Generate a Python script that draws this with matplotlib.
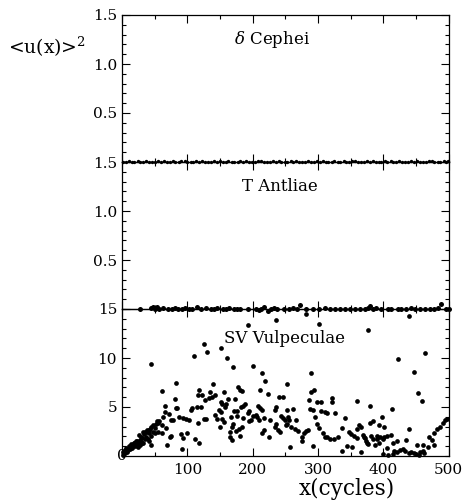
import matplotlib
matplotlib.use("Agg")
import matplotlib.pyplot as plt
from matplotlib.ticker import MultipleLocator

plt.rcParams['font.family'] = ['DejaVu Serif']
plt.rcParams['mathtext.fontset'] = 'dejavuserif'

# ---------------- data ----------------
titles = [r"$\delta$ Cephei", "T Antliae", "SV Vulpeculae"]
x_tick_labels = ["", "100", "200", "300", "400", "500"]
x_ticks = [0, 100, 200, 300, 400, 500]
small_y_ticks = [0.5, 1.0, 1.5]
small_y_labels = ["0.5", "1.0", "1.5"]
big_y_ticks = [5, 10, 15]
big_y_labels = ["5", "10", "15"]

ceph_x = [2, 6, 11, 15, 19, 24, 28, 33, 37, 42, 46, 51, 55, 60, 64, 69, 73, 78,
          82, 87, 91, 96, 100, 105, 109, 114, 118, 123, 127, 132, 136, 141, 145,
          150, 154, 159, 163, 168, 172, 177, 181, 186, 190, 195, 199, 204, 208,
          213, 217, 222, 226, 231, 235, 240, 244, 249, 253, 258, 262, 267, 271,
          276, 280, 285, 289, 294, 298, 303, 307, 312, 316, 321, 325, 330, 334,
          339, 343, 348, 352, 357, 361, 366, 370, 375, 379, 384, 388, 393, 397,
          402, 406, 411, 415, 420, 424, 429, 433, 438, 442, 447, 451, 456, 460,
          465, 469, 474, 478, 483, 487, 492, 496, 499]
ceph_y = [0.004, 0.002, 0.006, 0.003, 0.005, 0.008, 0.002, 0.004, 0.007, 0.003,
          0.005, 0.004, 0.009, 0.002, 0.006, 0.003, 0.005, 0.007, 0.004, 0.002,
          0.006, 0.010, 0.003, 0.005, 0.004, 0.006, 0.002, 0.008, 0.004, 0.003,
          0.005, 0.007, 0.002, 0.006, 0.004, 0.003, 0.009, 0.005, 0.002, 0.004,
          0.006, 0.003, 0.007, 0.005, 0.004, 0.002, 0.006, 0.008, 0.003, 0.005,
          0.004, 0.006, 0.002, 0.007, 0.004, 0.003, 0.005, 0.009, 0.002, 0.006,
          0.004, 0.003, 0.005, 0.007, 0.002, 0.004, 0.006, 0.003, 0.008, 0.005,
          0.004, 0.002, 0.006, 0.003, 0.005, 0.007, 0.004, 0.002, 0.006, 0.010,
          0.003, 0.005, 0.004, 0.006, 0.002, 0.008, 0.004, 0.003, 0.005, 0.007,
          0.002, 0.006, 0.004, 0.003, 0.009, 0.005, 0.002, 0.004, 0.006, 0.003,
          0.007, 0.005, 0.004, 0.002, 0.006, 0.008, 0.003, 0.005, 0.004, 0.006,
          0.002, 0.007]

tant_x = [28, 45, 48, 50, 52, 54, 57, 63, 70, 76, 81, 86, 92, 97, 102, 108, 115,
          121, 128, 136, 141, 146, 154, 159, 164, 171, 176, 181, 193, 205, 210,
          213, 218, 223, 228, 233, 238, 248, 256, 262, 268, 273, 282, 292, 302,
          310, 318, 326, 334, 341, 349, 356, 364, 372, 376, 379, 384, 389, 397,
          407, 412, 422, 427, 434, 442, 449, 456, 464, 471, 478, 484, 488, 496, 500]
tant_y = [0.0, 0.01, 0.02, 0.0, 0.01, 0.02, 0.0, 0.01, 0.0, 0.0, 0.01, 0.0,
          0.0, 0.01, 0.0, 0.0, 0.02, 0.0, 0.01, 0.0, 0.0, 0.01, 0.0, 0.0,
          0.01, 0.0, 0.0, 0.0, 0.0, 0.0, -0.01, 0.0, 0.02, -0.02, 0.0, 0.01,
          0.0, 0.0, 0.0, 0.01, 0.0, 0.04, 0.0, 0.0, 0.0, 0.01, 0.0, 0.0, 0.0,
          0.0, 0.0, 0.0, 0.0, 0.0, 0.01, 0.03, 0.0, 0.01, 0.0, 0.0, 0.0, 0.0,
          0.0, 0.0, 0.01, 0.0, 0.0, 0.0, 0.0, 0.0, 0.01, 0.05, 0.0, 0.0]

sv_x = [44.8, 126, 110, 130, 82.4, 61.5, 117.6, 116, 122, 127.7, 81, 65.7, 85,
        83, 105, 108, 115, 121, 65.7, 72, 63, 75, 78, 88, 93, 98, 102, 117, 125,
        54, 56, 48, 45, 61, 68, 42, 39, 55, 51, 34, 29.5, 26.5, 45, 62, 73, 75,
        91, 99, 112, 42, 44, 69, 94, 92, 118.6, 21, 18, 16, 12, 9, 6, 3, 1, 27,
        24, 29.5, 37, 40, 33, 2, 4, 5, 7, 8, 10, 11, 13, 14, 15, 17, 19, 20, 22,
        23, 25, 28, 30, 31, 32, 35, 36, 38, 41, 43, 47, 50, 52, 57,
        192.8, 235, 151, 161.5, 170, 200.5, 214.8, 218.9, 140, 178, 181, 184,
        212, 223, 252, 135.4, 142, 138, 134, 156, 162.5, 172.6, 241, 247, 151,
        153, 160, 158, 182, 185, 189, 208, 212, 214, 148.6, 151, 172, 176, 194.6,
        193, 235, 233.6, 252, 128.2, 142.6, 145.5, 153, 156, 167.5, 176.6, 185.8,
        200, 205, 207, 210, 198, 194.6, 217, 226, 243.8, 246.4, 250, 252.4, 236,
        234, 239, 242, 149.6, 170, 168, 183, 179, 175, 165, 166, 168.5, 181,
        213.8, 217, 224.4, 256.5,
        281.4, 301, 376.6, 288.6, 293.1, 290, 286.5, 299, 305, 322, 321, 360,
        379, 262, 287.5, 293, 254, 304, 310, 314, 326.7, 295, 340.9, 256, 267,
        251.4, 258.5, 264.6, 268.7, 280.9, 285, 277.9, 275, 276, 298.8, 301.3,
        307, 310, 314, 319, 325, 331, 336, 348, 351, 355, 359, 366, 363, 360,
        344, 352.5, 337, 292, 371, 373.5, 365.6, 378.8,
        439.2, 423, 463.6, 446.9, 453.5, 458.6, 413.7, 398.4, 384.2, 393.9, 401,
        439.2, 494, 491.8, 486.6, 482.6, 477.5, 469.8, 473.9, 369.5, 372, 380.6,
        389.8, 394.9, 401, 406, 384.7, 390.8, 399, 411, 374.5, 377, 387.2, 393.4,
        406, 415, 421, 434.4, 452, 460, 468.4, 477, 416.6, 420.7, 424.8, 429.9,
        433.5, 438.6, 442.2, 446.3, 450.4, 454, 456.5, 460.6, 462.6, 414.2,
        399.9, 406.5, 498]
sv_y = [9.35, 11.46, 10.2, 10.6, 7.4, 6.63, 6.7, 6.2, 6.2, 5.7, 5.78, 5.1, 4.9,
        4.9, 4.7, 4.9, 5.0, 5.0, 4.45, 4.25, 3.98, 3.7, 3.7, 3.95, 3.85, 3.75,
        3.67, 3.4, 3.8, 3.6, 3.4, 3.15, 2.95, 3.15, 2.9, 2.65, 2.44, 2.48, 2.38,
        2.2, 1.95, 2.17, 2.0, 2.34, 1.96, 2.05, 2.2, 2.35, 1.75, 1.55, 1.12,
        1.14, 1.8, 0.7, 1.35, 1.55, 1.35, 1.14, 0.94, 0.7, 0.5, 0.27, 0.1, 1.12,
        0.94, 1.45, 1.9, 1.7, 1.35, 0.4, 0.6, 0.3, 0.8, 0.45, 0.6, 1.0, 0.75,
        1.2, 0.85, 1.0, 1.3, 1.0, 1.2, 1.5, 1.3, 1.6, 1.3, 1.8, 2.4, 1.7, 2.5,
        2.7, 2.3, 2.8, 2.4, 2.9, 3.3, 3.6,
        13.4, 13.9, 11.05, 9.96, 9.1, 9.2, 8.5, 7.7, 7.3, 7.07, 6.7, 6.6, 6.7,
        6.35, 7.3, 6.53, 6.2, 6.0, 5.9, 6.5, 5.78, 5.78, 6.05, 6.0, 5.55, 5.33,
        5.27, 4.97, 4.95, 5.1, 5.3, 5.1, 4.9, 4.7, 4.7, 4.5, 4.55, 4.6, 4.55,
        4.35, 5.0, 4.7, 4.65, 3.8, 4.2, 3.8, 3.75, 3.5, 4.0, 4.08, 3.85, 4.05,
        4.2, 3.98, 3.7, 3.7, 3.6, 3.85, 3.7, 4.08, 3.85, 3.7, 3.3, 3.25, 2.95,
        2.7, 2.5, 2.95, 3.3, 3.0, 3.0, 2.75, 2.58, 2.4, 1.97, 1.63, 2.04, 2.31,
        2.65, 1.9, 0.87,
        14.45, 13.5, 12.86, 8.44, 6.76, 6.53, 5.72, 5.47, 5.5, 5.9, 5.5, 5.65,
        5.1, 4.83, 4.83, 4.7, 3.95, 4.55, 4.45, 4.35, 4.35, 3.95, 3.85, 3.7, 3.7,
        3.2, 3.0, 2.8, 2.6, 2.6, 2.65, 2.31, 1.97, 1.56, 3.26, 2.86, 2.31, 1.97,
        1.9, 1.7, 1.77, 1.97, 2.86, 2.48, 2.24, 2.04, 1.8, 2.92, 3.13, 2.72,
        1.0, 0.87, 0.46, 1.0, 1.97, 1.5, 0.44, 3.4,
        14.3, 9.86, 10.55, 8.54, 6.4, 5.6, 4.76, 3.95, 3.57, 3.16, 2.93, 2.8,
        3.65, 3.33, 2.93, 2.72, 2.31, 1.9, 1.63, 2.1, 1.8, 2.04, 2.07, 1.97,
        1.97, 2.04, 1.77, 1.7, 1.77, 2.17, 1.35, 1.22, 1.12, 1.35, 0.78, 1.29,
        1.56, 1.63, 1.12, 1.14, 0.95, 1.12, 0.54, 0.41, 0.61, 0.68, 0.54, 0.34,
        0.41, 0.27, 0.2, 0.14, 0.41, 0.54, 0.27, 0.2, 0.2, 0.1, 3.8]

# ---------------- figure ----------------
fig = plt.figure(figsize=(4.67, 5.0), dpi=100)
left, width, height = 0.261, 0.700, 0.294
bottoms = [0.676, 0.382, 0.088]
axes = [fig.add_axes([left, b, width, height]) for b in bottoms]

for ax in axes:
    ax.patch.set_visible(False)
    ax.set_xlim(0, 500)
    ax.set_xticks(x_ticks)
    ax.xaxis.set_minor_locator(MultipleLocator(50))
    ax.tick_params(which='both', direction='in', top=True, right=True,
                   width=0.8, labelsize=11, colors='black')
    ax.tick_params(which='major', length=5.5)
    ax.tick_params(which='minor', length=3.2)
    for s in ax.spines.values():
        s.set_linewidth(0.9)

for ax in axes[:2]:
    ax.set_ylim(0, 1.5)
    ax.set_yticks(small_y_ticks)
    ax.set_yticklabels(small_y_labels)
    ax.yaxis.set_minor_locator(MultipleLocator(0.1))
    ax.tick_params(axis='x', labelbottom=False)

ax3 = axes[2]
ax3.set_ylim(0, 15)
ax3.set_yticks(big_y_ticks)
ax3.set_yticklabels(big_y_labels)
ax3.yaxis.set_minor_locator(MultipleLocator(1))
ax3.set_xticklabels(x_tick_labels)
ax3.tick_params(axis='x', pad=5)
ax3.text(0, 0, "0", ha='center', va='center', fontsize=11, clip_on=False)

axes[0].plot(ceph_x, ceph_y, 'o', color='black', ms=2.4, mew=0, clip_on=False, zorder=5)
axes[1].plot(tant_x, tant_y, 'o', color='black', ms=3.6, mew=0, clip_on=False, zorder=5)
ax3.plot(sv_x, sv_y, 'o', color='black', ms=3.4, mew=0, clip_on=False, zorder=5)

title_pos = [(0.459, 0.83), (0.483, 0.83), (0.498, 0.80)]
for ax, t, (tx, ty) in zip(axes, titles, title_pos):
    ax.text(tx, ty, t, transform=ax.transAxes, ha='center', va='center', fontsize=12)

fig.text(0.018, 0.906, r"<u(x)>$^{2}$", ha='left', va='center', fontsize=13.5)
fig.text(0.743, 0.022, "x(cycles)", ha='center', va='center', fontsize=15.5)

fig.savefig("out.png", dpi=100)
